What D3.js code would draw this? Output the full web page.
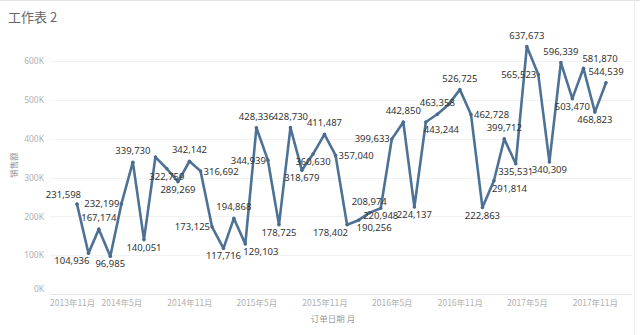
<!DOCTYPE html>
<html>
<head>
<meta charset="utf-8">
<script src="https://cdn.jsdelivr.net/npm/d3@7"></script>
<style>
  html, body { margin: 0; padding: 0; background: #fff; }
  svg { display: block; }
</style>
</head>
<body>
<svg id="chart" width="640" height="335"></svg>
<script>
// Monthly sales (销售额) by order month
const months = [
  "2014-01","2014-02","2014-03","2014-04","2014-05","2014-06","2014-07","2014-08","2014-09","2014-10","2014-11","2014-12",
  "2015-01","2015-02","2015-03","2015-04","2015-05","2015-06","2015-07","2015-08","2015-09","2015-10","2015-11","2015-12",
  "2016-01","2016-02","2016-03","2016-04","2016-05","2016-06","2016-07","2016-08","2016-09","2016-10","2016-11","2016-12",
  "2017-01","2017-02","2017-03","2017-04","2017-05","2017-06","2017-07","2017-08","2017-09","2017-10","2017-11","2017-12"
];
const sales = [
  231598, 104936, 167174, 96985, 232199, 339730, 140051, 353000, 322759, 289269, 342142, 316692,
  173125, 117716, 194868, 129103, 428336, 344939, 178725, 428730, 318679, 360630, 411487, 357040,
  178402, 190256, 208974, 220948, 399633, 442850, 224137, 443244, 463358, 488000, 526725, 462728,
  222863, 291814, 399712, 335531, 637673, 565523, 340309, 596339, 503470, 581870, 468823, 544539
];
// Whether a month's value is printed next to its point
const labelled = [
  1,1,1,1,1,1,1,0,1,1,1,1,
  1,1,1,1,1,1,1,1,1,1,1,1,
  1,1,1,1,1,1,1,1,1,0,1,1,
  1,1,1,1,1,1,1,1,1,1,1,1
];
// Label placement: a=above, b=below, l=left, r=right, al/bl=above/below ending at point, ar/br=starting at point
const placement = [
  "al","bl","a","b","l","a","b","a","b","b","a","r",
  "l","b","a","br","a","l","b","a","b","b","a","r",
  "bl","br","a","b","l","a","b","br","a","a","a","r",
  "b","br","a","b","a","l","b","a","b","ar","b","a"
];
const yTicks = [0, 100000, 200000, 300000, 400000, 500000, 600000];
const xTickMonths = ["2013-11","2014-05","2014-11","2015-05","2015-11","2016-05","2016-11","2017-05","2017-11"];

const title = "工作表 2";
const yTitle = "销售额";
const xTitle = "订单日期 月";

const parse = d3.timeParse("%Y-%m");
const data = months.map((m, i) => ({ date: parse(m), value: sales[i], show: labelled[i], pos: placement[i] }));

const svg = d3.select("#chart");
const W = 640, H = 335;
const plot = { left: 48, right: 632, top: 30, bottom: 294 };

const x = d3.scaleTime()
  .domain([parse("2014-01"), parse("2017-12")])
  .range([77, 606]);
const y = d3.scaleLinear()
  .domain([0, 100000])
  .range([plot.bottom, plot.bottom - 38.8]);

const cjk = "'Noto Sans CJK SC', 'Noto Sans', sans-serif";
const sans = "'Noto Sans', 'Noto Sans CJK SC', sans-serif";

// frame edges
svg.append("line").attr("x1", 0).attr("x2", W).attr("y1", 0.5).attr("y2", 0.5)
  .attr("stroke", "#e4e4e4");
svg.append("line").attr("x1", 634.5).attr("x2", 634.5).attr("y1", 0).attr("y2", H)
  .attr("stroke", "#ececec");

// title
svg.append("text").attr("x", 8).attr("y", 22)
  .attr("font-family", cjk).attr("font-size", 13).attr("fill", "#666")
  .text(title);

// y gridlines + axis
const yAxis = d3.axisLeft(y).tickValues(yTicks)
  .tickFormat(d => (d / 1000) + "K").tickSize(0).tickPadding(4);
const gy = svg.append("g").attr("transform", `translate(${plot.left},0)`).call(yAxis);
gy.select(".domain").remove();
gy.selectAll("text").attr("font-family", sans).attr("font-size", 8.5).attr("fill", "#b0b0b0")
  .attr("dy", d => d === 0 ? "-0.25em" : "0.32em");

svg.append("g").selectAll("line").data(yTicks.filter(d => d > 0)).join("line")
  .attr("x1", plot.left + 2).attr("x2", plot.right)
  .attr("y1", d => Math.round(y(d)) + 0.5).attr("y2", d => Math.round(y(d)) + 0.5)
  .attr("stroke", "#f2f2f2");
svg.append("line").attr("x1", plot.left + 2).attr("x2", plot.right)
  .attr("y1", Math.round(y(0)) + 0.5).attr("y2", Math.round(y(0)) + 0.5)
  .attr("stroke", "#e6e6e6");

// x axis tick labels
const fmt = d3.timeFormat("%Y年%-m月");
const xAxis = d3.axisBottom(x).tickValues(xTickMonths.map(parse))
  .tickFormat(fmt).tickSize(0).tickPadding(6);
const gx = svg.append("g").attr("transform", `translate(0,${plot.bottom})`).call(xAxis);
gx.select(".domain").remove();
gx.selectAll("text").attr("font-family", cjk).attr("font-size", 8.5).attr("fill", "#b0b0b0");
// keep the first label inside the plot edge
gx.selectAll(".tick text").each(function () {
  const bb = this.getBBox();
  const t = d3.select(this.parentNode).attr("transform");
  const tx = +t.match(/translate\(([-\d.]+)/)[1];
  const left = tx + bb.x;
  if (left < 50) d3.select(this).attr("dx", (50 - left) + "px");
});

// axis titles
svg.append("text").attr("transform", `translate(17,165) rotate(-90)`)
  .attr("text-anchor", "middle").attr("font-family", cjk).attr("font-size", 8.5).attr("fill", "#999")
  .text(yTitle);
svg.append("text").attr("x", 333).attr("y", 322).attr("text-anchor", "middle")
  .attr("font-family", cjk).attr("font-size", 8.5).attr("fill", "#999")
  .text(xTitle);

// sales line
const line = d3.line().x(d => x(d.date)).y(d => y(d.value));
svg.append("path").datum(data).attr("d", line)
  .attr("fill", "none").attr("stroke", "#4e7296").attr("stroke-width", 2.6)
  .attr("stroke-linejoin", "round").attr("stroke-linecap", "round");
svg.append("g").selectAll("circle").data(data).join("circle")
  .attr("cx", d => x(d.date)).attr("cy", d => y(d.value)).attr("r", 1.8)
  .attr("fill", "#4a6b8c");

// value labels
const numFmt = d3.format(",");
const offs = {
  a:  { dx: 0,  dy: -8, anchor: "middle" },
  b:  { dx: 0,  dy: 11, anchor: "middle" },
  l:  { dx: -2, dy: 3.5, anchor: "end" },
  r:  { dx: 3,  dy: 3.5, anchor: "start" },
  al: { dx: 4,  dy: -6, anchor: "end" },
  bl: { dx: 1,  dy: 11, anchor: "end" },
  ar: { dx: -1, dy: -6, anchor: "start" },
  br: { dx: -2, dy: 11, anchor: "start" }
};
svg.append("g").selectAll("text").data(data.filter(d => d.show)).join("text")
  .attr("x", d => x(d.date) + offs[d.pos].dx)
  .attr("y", d => y(d.value) + offs[d.pos].dy)
  .attr("text-anchor", d => offs[d.pos].anchor)
  .attr("font-family", sans).attr("font-size", 9.5).attr("fill", "#333")
  .text(d => numFmt(d.value));
</script>
</body>
</html>
